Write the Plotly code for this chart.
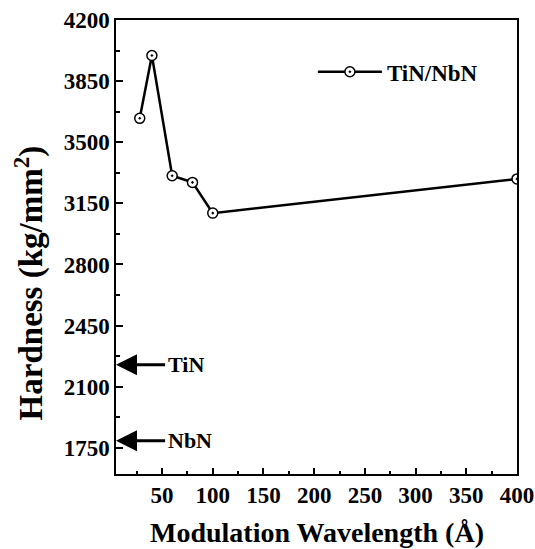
import plotly.graph_objects as go

# Data
wavelength = [28, 40, 60, 80, 100, 400]          # Modulation wavelength (Å)
hardness = [3637, 3997, 3308, 3270, 3094, 3290]  # kg/mm^2
series_name = "TiN/NbN"

ref_labels = ["TiN", "NbN"]
ref_values = [2225, 1790]

x_ticks = [50, 100, 150, 200, 250, 300, 350, 400]
y_ticks = [1750, 2100, 2450, 2800, 3150, 3500, 3850, 4200]

FONT = "Liberation Serif, Times New Roman, serif"

fig = go.Figure()
fig.add_trace(go.Scatter(
    x=wavelength, y=hardness, mode="lines+markers", name="<b>%s</b>" % series_name,
    line=dict(color="black", width=2.5),
    marker=dict(symbol="circle-dot", size=10, color="white",
                line=dict(color="black", width=1.5)),
    cliponaxis=True,
))

XMIN = 4.6
for lab, val in zip(ref_labels, ref_values):
    fig.add_annotation(x=XMIN, y=val, ax=53, ay=val, axref="x", ayref="y",
                       xref="x", yref="y", text="<b>%s</b>" % lab, showarrow=True,
                       xanchor="left", yanchor="middle", borderpad=2,
                       arrowhead=2, arrowsize=1.4, arrowwidth=3, arrowcolor="black",
                       font=dict(family=FONT, size=22, color="black"))

fig.add_annotation(x=0.5, y=-0.128, xref="paper", yref="paper",
                   text="<b>Modulation Wavelength (Å)</b>", showarrow=False,
                   xanchor="center", yanchor="middle",
                   font=dict(family=FONT, size=28, color="black"))
fig.add_annotation(x=-0.217, y=0.422, xref="paper", yref="paper",
                   text="<b>Hardness (kg/mm<sup>2</sup>)</b>", showarrow=False,
                   textangle=-90, xanchor="center", yanchor="middle",
                   font=dict(family=FONT, size=33, color="black"))

axis_common = dict(showline=True, linecolor="black", linewidth=1.5, mirror=True,
                   showgrid=False, zeroline=False, ticks="inside",
                   tickcolor="black", tickwidth=1.5, automargin=False,
                   tickfont=dict(family=FONT, size=23, color="black"))

fig.update_xaxes(range=[XMIN, 400], tickvals=x_ticks,
                 ticktext=["<b>%d</b>" % v for v in x_ticks], ticklen=6,
                 minor=dict(dtick=25, tick0=0, ticks="inside", ticklen=3,
                            tickcolor="black", tickwidth=1.5),
                 **axis_common)
fig.update_yaxes(range=[1600, 4200], tickvals=y_ticks,
                 ticktext=["<b>%d</b>" % v for v in y_ticks], ticklen=7,
                 minor=dict(dtick=175, tick0=1750, ticks="inside", ticklen=4,
                            tickcolor="black", tickwidth=1.5),
                 **axis_common)

fig.update_layout(
    width=535, height=549,
    margin=dict(l=116, r=18, t=20, b=75, autoexpand=False),
    paper_bgcolor="white", plot_bgcolor="white",
    showlegend=True,
    legend=dict(x=0.491, y=0.886, xanchor="left", yanchor="middle",
                bgcolor="rgba(0,0,0,0)", itemwidth=64,
                font=dict(family=FONT, size=23, color="black")),
)

fig.write_html("out.html")
